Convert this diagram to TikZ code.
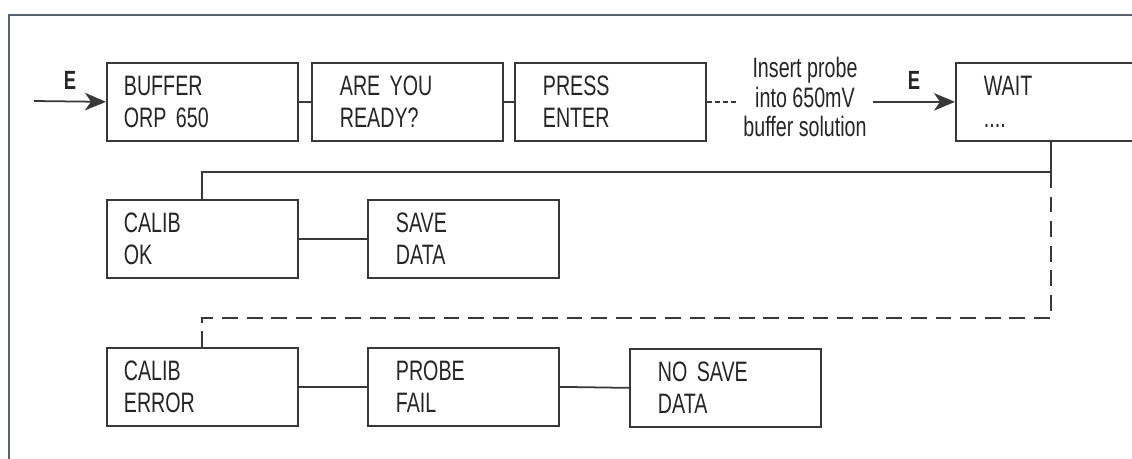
\documentclass[tikz,border=0pt]{standalone}
\usepackage{fontspec}
\setmainfont{Liberation Sans}[FakeStretch=0.70]
\usepackage{xcolor}
\definecolor{FrameGray}{HTML}{5A636C}
\definecolor{LineGray}{HTML}{383838}
\definecolor{TextGray}{HTML}{262626}
\usetikzlibrary{arrows.meta}

\begin{document}
\begin{tikzpicture}[x=0.02cm, y=-0.02cm,
        box/.style={draw=LineGray, line width=1pt, anchor=north west, minimum height=1.56cm,
            text width=3.14cm, inner xsep=0.34cm, inner ysep=0pt, align=left,
            font=\fontsize{16pt}{18.5pt}\selectfont, text=TextGray},
        roomy/.style={text width=2.70cm, inner xsep=0.56cm},
        link/.style={LineGray, line width=1pt},
        maybe/.style={link, dash pattern=on 9pt off 5pt},
        dotted link/.style={link, dash pattern=on 2.8pt off 1.8pt},
        arrow/.style={link, -{Stealth[length=12pt, width=10pt, inset=3.5pt]}},
        elabel/.style={font=\fontsize{15pt}{17pt}\selectfont\bfseries, text=TextGray},
        note/.style={font=\fontsize{16pt}{17pt}\selectfont, text=TextGray, align=center},
        frame/.style={FrameGray, line width=1.7pt}
    ]
        \useasboundingbox (0,0) rectangle (1132,459);

        % Page frame (top and left edge only)
        \draw[frame] (1132,15) -- (9,15) -- (9,459);

        % First row: buffer selection and prompt
        \node[box] (buffer) at (106,62) {BUFFER\\ORP 650};
        \node[box, roomy] (ready) at (311,62) {ARE YOU\\READY?};
        \node[box, roomy] (press) at (514,62) {PRESS\\ENTER};
        \node[note] (insert) at (805,97) {Insert probe\\into 650mV\\buffer solution};
        \node[box, roomy] (wait) at (955,62) {WAIT\\....};

        % Second row: calibration succeeded
        \node[box] (calibok) at (106,199) {CALIB\\OK};
        \node[box, roomy] (savedata) at (367,199) {SAVE\\DATA};

        % Third row: calibration failed
        \node[box] (caliberr) at (106,347) {CALIB\\ERROR};
        \node[box, roomy] (probefail) at (367,347) {PROBE\\FAIL};
        \node[box, roomy] (nosave) at (629,348) {NO SAVE\\DATA};

        % Enter keys
        \coordinate (start) at (34,101);
        \draw[arrow] (start) -- node[elabel, above=3pt] (enter1) {E} (buffer.west);
        \draw[arrow] (insert.east |- wait.west) -- node[elabel, above=3pt] (enter2) {E} (wait.west);

        % Links along the rows
        \draw[link] (buffer.east) -- (ready.west);
        \draw[link] (ready.east) -- (press.west);
        \draw[dotted link] (press.east) -- (press.east -| insert.west);
        \draw[link] (calibok.east) -- (savedata.west);
        \draw[link] (caliberr.east) -- (probefail.west);
        \draw[link] (probefail.east) -- (nosave.west);

        % Branch from WAIT to the two outcomes
        \coordinate (split) at (wait.south |- 0,172);
        \coordinate (failturn) at (wait.south |- 0,318);
        \draw[link] (wait.south) -- (split) -| (calibok.north);
        \draw[maybe] (split) -- (failturn) -| (caliberr.north);
    \end{tikzpicture}
\end{document}
